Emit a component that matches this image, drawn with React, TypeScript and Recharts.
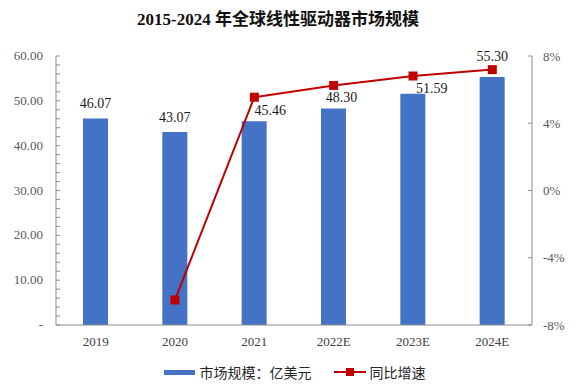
import React from 'react';
import {
  ComposedChart,
  Bar,
  Line,
  XAxis,
  YAxis,
  Legend,
  LabelList,
} from 'recharts';

const years = ['2019', '2020', '2021', '2022E', '2023E', '2024E'];
const marketSize = [46.07, 43.07, 45.46, 48.3, 51.59, 55.3];
const yoyGrowth = [null, -6.51, 5.55, 6.25, 6.81, 7.19];
const leftTicks = [0, 2, 4, 6, 8, 10, 12, 14, 16, 18, 20, 22, 24, 26, 28, 30, 32, 34, 36, 38, 40, 42, 44, 46, 48, 50, 52, 54, 56, 58, 60];
const rightTicks = [-8, -4, 0, 4, 8];

// labels in the source were nudged by hand to dodge the line
const labelNudge = [
  [0, 0],
  [0, 0],
  [16, 4],
  [8, 4],
  [19, 9],
  [0, -6],
];

const data = years.map((year, i) => ({ year, size: marketSize[i], yoy: yoyGrowth[i] }));

const SERIF = "'Liberation Serif', 'Times New Roman', 'Noto Sans CJK SC', serif";
const AXIS = '#8c8c8c';

const LeftTick = (props: any) => {
  const { x, y, payload } = props;
  if (payload.value % 10 !== 0) return null;
  return (
    <text x={x - 1} y={y} dy={4} textAnchor="end" fontSize={13} fill="#595959" fontFamily={SERIF}>
      {payload.value === 0 ? '-' : payload.value.toFixed(2)}
    </text>
  );
};

const BarLabel = (props: any) => {
  const { x, y, width, value, index } = props;
  const [dx, dy] = labelNudge[index] || [0, 0];
  return (
    <text
      x={x + width / 2 + dx}
      y={y - 10 + dy}
      textAnchor="middle"
      fontSize={14}
      fill="#1a1a1a"
      fontFamily={SERIF}
    >
      {Number(value).toFixed(2)}
    </text>
  );
};

const renderLegend = () => (
  <div
    style={{
      display: 'flex',
      justifyContent: 'center',
      alignItems: 'center',
      fontFamily: SERIF,
      fontSize: 14,
      color: '#262626',
      paddingLeft: 4,
    }}
  >
    <span style={{ display: 'inline-block', width: 31, height: 5, background: '#4472C4', marginRight: 5 }} />
    <span style={{ marginRight: 22 }}>市场规模：亿美元</span>
    <svg width={32} height={10} style={{ marginRight: 4 }}>
      <line x1={0} y1={5} x2={32} y2={5} stroke="#C00000" strokeWidth={2} />
      <rect x={12} y={1} width={8} height={8} fill="#C00000" />
    </svg>
    <span>同比增速</span>
  </div>
);

const Square = (props: any) => {
  const { cx, cy } = props;
  if (cx == null || cy == null || props.value == null) return null;
  return <rect x={cx - 4.5} y={cy - 4.5} width={9} height={9} fill="#C00000" />;
};

export default function App() {
  return (
    <div style={{ position: 'absolute', left: 0, top: 0, width: 585, height: 391, background: '#fff' }}>
      <div
        style={{
          position: 'absolute',
          top: 9,
          left: 0,
          width: 556,
          textAlign: 'center',
          fontFamily: SERIF,
          fontWeight: 'bold',
          fontSize: 17,
          lineHeight: '22px',
          color: '#111',
        }}
      >
        2015-2024 年全球线性驱动器市场规模
      </div>
      <ComposedChart
        width={585}
        height={391}
        data={data}
        margin={{ top: 56, right: 0, left: 0, bottom: 3 }}
        barSize={25}
      >
        <XAxis
          dataKey="year"
          tickLine={false}
          axisLine={{ stroke: AXIS }}
          tick={{ fontSize: 13, fill: '#404040', fontFamily: SERIF }}
          tickMargin={6}
          height={37}
        />
        <YAxis
          yAxisId="left"
          orientation="left"
          width={56}
          domain={[0, 60]}
          ticks={leftTicks}
          interval={0}
          tickSize={-4}
          tickMargin={16}
          tickLine={{ stroke: AXIS }}
          axisLine={{ stroke: AXIS }}
          tick={<LeftTick />}
        />
        <YAxis
          yAxisId="right"
          orientation="right"
          width={53}
          domain={[-8, 8]}
          ticks={rightTicks}
          interval={0}
          tickSize={-4}
          tickMargin={15}
          tickLine={{ stroke: AXIS }}
          axisLine={{ stroke: AXIS }}
          tickFormatter={(v: number) => `${v}%`}
          tick={{ fontSize: 13, fill: '#595959', fontFamily: SERIF }}
        />
        <Legend verticalAlign="bottom" height={26} content={renderLegend} />
        <Bar yAxisId="left" dataKey="size" fill="#4472C4" isAnimationActive={false}>
          <LabelList dataKey="size" content={<BarLabel />} />
        </Bar>
        <Line
          yAxisId="right"
          dataKey="yoy"
          stroke="#C00000"
          strokeWidth={2}
          dot={<Square />}
          activeDot={false}
          connectNulls={false}
          isAnimationActive={false}
        />
      </ComposedChart>
    </div>
  );
}
